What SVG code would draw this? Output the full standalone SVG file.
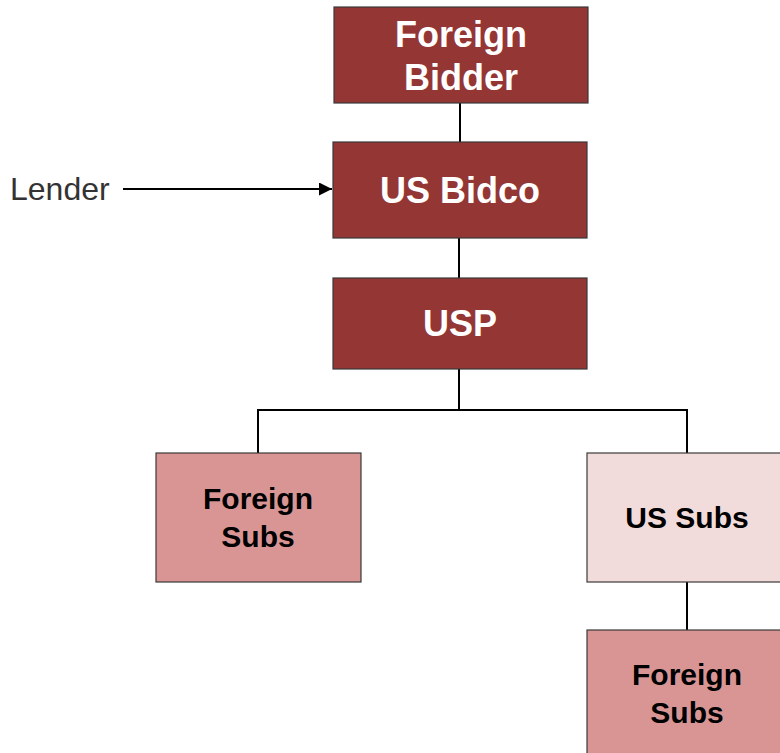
<svg xmlns="http://www.w3.org/2000/svg" width="780" height="753" viewBox="0 0 780 753">
<style>
.box{stroke:#3a3a3a;stroke-width:1.2}
.dark{fill:#943634}
.mid{fill:#D99594}
.light{fill:#F2DCDB}
.tw{font-family:"Liberation Sans",Arial,sans-serif;font-weight:bold;font-size:36px;fill:#ffffff;text-anchor:middle}
.tb{font-family:"Liberation Sans",Arial,sans-serif;font-weight:bold;font-size:30px;fill:#000000;text-anchor:middle}
.conn{stroke:#000;stroke-width:2;fill:none}
</style>
<defs>
<marker id="arr" markerWidth="14" markerHeight="14" refX="13" refY="6.5" orient="auto" markerUnits="userSpaceOnUse">
<path d="M0,0 L13,6.5 L0,13 Z" fill="#000"/>
</marker>
</defs>
<rect width="780" height="753" fill="#ffffff"/>
<g id="connectors">
<line class="conn" x1="460" y1="103" x2="460" y2="142"/>
<line class="conn" x1="459" y1="238" x2="459" y2="278"/>
<polyline class="conn" points="258,453 258,410 687,410 687,453"/>
<line class="conn" x1="459" y1="369" x2="459" y2="410"/>
<line class="conn" x1="687" y1="582" x2="687" y2="630"/>
<line class="conn" x1="123" y1="189" x2="332" y2="189" marker-end="url(#arr)"/>
</g>
<g id="lender">
<text x="10" y="200" font-family="Liberation Sans,Arial,sans-serif" font-size="32" fill="#333333">Lender</text>
</g>
<g id="foreign-bidder">
<rect class="box dark" x="334" y="7" width="254" height="96"/>
<text class="tw" x="461" y="47">Foreign</text>
<text class="tw" x="461" y="90">Bidder</text>
</g>
<g id="us-bidco">
<rect class="box dark" x="333" y="142" width="254" height="96"/>
<text class="tw" x="460" y="203">US Bidco</text>
</g>
<g id="usp">
<rect class="box dark" x="333" y="278" width="254" height="91"/>
<text class="tw" x="460" y="336">USP</text>
</g>
<g id="foreign-subs-1">
<rect class="box mid" x="156" y="453" width="205" height="129"/>
<text class="tb" x="258" y="509">Foreign</text>
<text class="tb" x="258" y="547">Subs</text>
</g>
<g id="us-subs">
<rect class="box light" x="587" y="453" width="200" height="129"/>
<text class="tb" x="687" y="528">US Subs</text>
</g>
<g id="foreign-subs-2">
<rect class="box mid" x="587" y="630" width="200" height="130"/>
<text class="tb" x="687" y="685">Foreign</text>
<text class="tb" x="687" y="723">Subs</text>
</g>
</svg>
